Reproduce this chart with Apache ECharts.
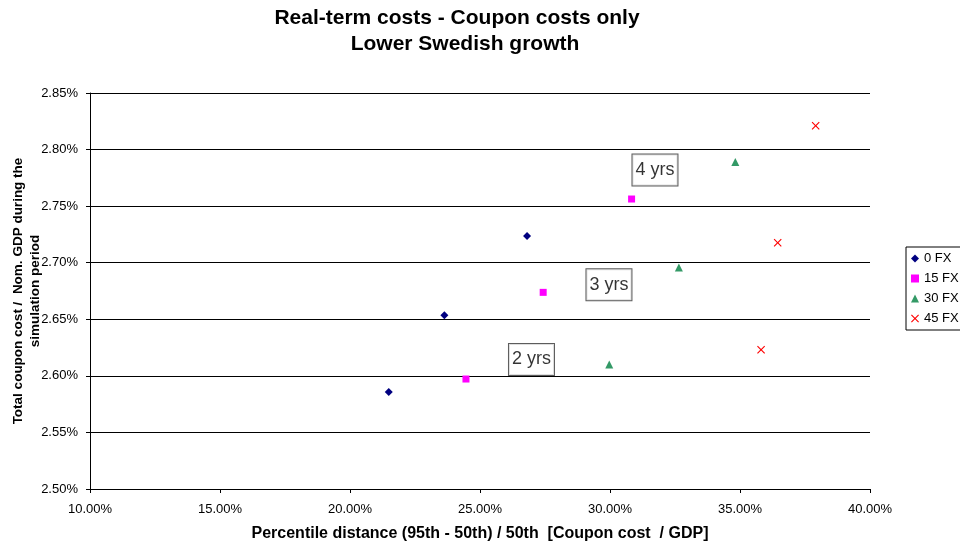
<!DOCTYPE html>
<html>
<head>
<meta charset="utf-8">
<title>Real-term costs - Coupon costs only</title>
<script src="https://cdn.jsdelivr.net/npm/echarts@6/dist/echarts.min.js"></script>
<style>
  html, body { margin: 0; padding: 0; background: #fff; }
  #chart { width: 960px; height: 546px; }
</style>
</head>
<body>
<div id="chart"></div>
<script>
// Percentile distance (%) and total coupon cost / nominal GDP (%) per FX share
const fx0X  = [21.49, 23.63, 26.81];
const fx0Y  = [2.5857, 2.6535, 2.7236];
const fx15X = [24.46, 27.43, 30.83];
const fx15Y = [2.5972, 2.6738, 2.7563];
const fx30X = [29.97, 32.65, 34.82];
const fx30Y = [2.6100, 2.6958, 2.7890];
const fx45X = [35.81, 36.45, 37.91];
const fx45Y = [2.6231, 2.7177, 2.8211];

const seriesNames = ['0 FX', '15 FX', '30 FX', '45 FX'];

// Horizon call-outs, placed in data coordinates
const noteText = ['4 yrs', '3 yrs', '2 yrs'];
const noteX = [31.73, 29.96, 26.98];
const noteY = [2.7819, 2.6806, 2.6145];

const titleLines = ['Real-term costs - Coupon costs only', 'Lower Swedish growth'];

const FONT = 'Arial, "Liberation Sans", sans-serif';
const CROSS = 'path://M0,1 L1,0 L5,4 L9,0 L10,1 L6,5 L10,9 L9,10 L5,6 L1,10 L0,9 L4,5 Z';

function pairs(xs, ys) { return xs.map((x, i) => [x, ys[i]]); }

const titleStyle = { fontFamily: FONT, fontSize: 21, fontWeight: 'bold', color: '#000' };

const chart = echarts.init(document.getElementById('chart'), null, { renderer: 'canvas' });

chart.setOption({
  animation: false,
  backgroundColor: '#ffffff',
  textStyle: { fontFamily: FONT },
  title: [
    { text: titleLines[0], left: 452, top: 3, textAlign: 'center', textStyle: titleStyle },
    { text: titleLines[1], left: 460, top: 29, textAlign: 'center', textStyle: titleStyle }
  ],
  grid: { left: 90, right: 90, top: 93, bottom: 57, containLabel: false, outerBoundsMode: 'none' },
  legend: {
    orient: 'vertical',
    left: 906,
    top: 247,
    data: seriesNames,
    borderColor: '#000',
    borderWidth: 1,
    borderRadius: 0,
    padding: [5, 12, 5, 5],
    itemWidth: 8,
    itemHeight: 8,
    itemGap: 7,
    textStyle: { fontFamily: FONT, fontSize: 13, color: '#000' }
  },
  xAxis: {
    type: 'value',
    min: 10, max: 40, interval: 5,
    name: 'Percentile distance (95th - 50th) / 50th  [Coupon cost  / GDP]',
    nameLocation: 'middle',
    nameGap: 37,
    nameMoveOverlap: false,
    nameTextStyle: { fontFamily: FONT, fontSize: 16, fontWeight: 'bold', color: '#000' },
    axisLine: { lineStyle: { color: '#000', width: 1 } },
    axisTick: { show: true, length: 4, lineStyle: { color: '#000' } },
    axisLabel: { fontFamily: FONT, fontSize: 13, color: '#000', margin: 14,
                 formatter: v => v.toFixed(2) + '%' },
    splitLine: { show: false }
  },
  yAxis: {
    type: 'value',
    min: 2.50, max: 2.85, interval: 0.05,
    name: 'Total coupon cost /  Nom. GDP during the\nsimulation period',
    nameLocation: 'middle',
    nameGap: 46,
    nameMoveOverlap: false,
    nameTextStyle: { fontFamily: FONT, fontSize: 13.5, fontWeight: 'bold', color: '#000', lineHeight: 17 },
    axisLine: { show: true, lineStyle: { color: '#000', width: 1 } },
    axisTick: { show: true, length: 4, lineStyle: { color: '#000' } },
    axisLabel: { fontFamily: FONT, fontSize: 13, color: '#000', margin: 12,
                 formatter: v => v.toFixed(2) + '%' },
    splitLine: { show: true, lineStyle: { color: '#000', width: 1 } }
  },
  series: [
    { name: '0 FX', type: 'scatter', symbol: 'diamond', symbolSize: 8,
      itemStyle: { color: '#000080', opacity: 1 }, data: pairs(fx0X, fx0Y) },
    { name: '15 FX', type: 'scatter', symbol: 'rect', symbolSize: 7,
      itemStyle: { color: '#FF00FF', opacity: 1 }, data: pairs(fx15X, fx15Y) },
    { name: '30 FX', type: 'scatter', symbol: 'triangle', symbolSize: 8,
      itemStyle: { color: '#339966', opacity: 1 }, data: pairs(fx30X, fx30Y) },
    { name: '45 FX', type: 'scatter', symbol: CROSS, symbolSize: 8,
      itemStyle: { color: '#FF0000', opacity: 1 }, data: pairs(fx45X, fx45Y) },
    {
      name: 'notes', type: 'scatter', symbol: 'circle', symbolSize: 1, silent: true, z: 5,
      itemStyle: { color: 'rgba(0,0,0,0)' },
      data: noteText.map((t, i) => ({ name: t, value: [noteX[i], noteY[i]] })),
      label: {
        show: true, position: 'inside', formatter: p => p.name,
        fontFamily: FONT, fontSize: 18, color: '#000',
        backgroundColor: '#fff', borderColor: '#333', borderWidth: 1,
        padding: [6, 3, 5, 3], lineHeight: 20
      }
    }
  ]
});
</script>
</body>
</html>
